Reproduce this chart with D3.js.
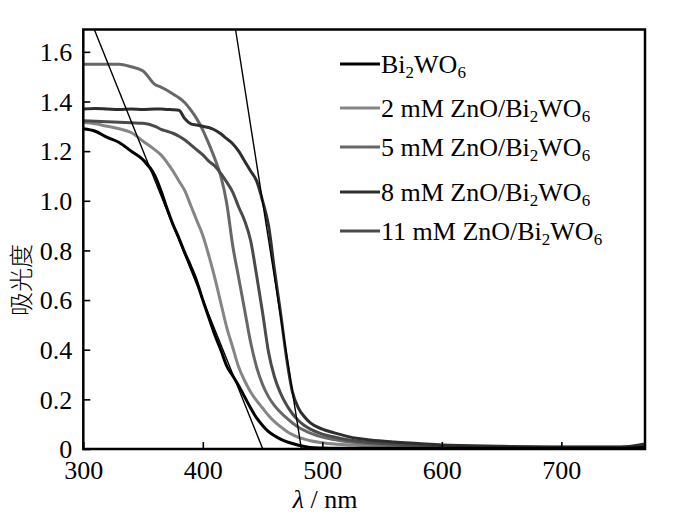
<!DOCTYPE html>
<html>
<head>
<meta charset="utf-8">
<script src="https://cdn.jsdelivr.net/npm/d3@7"></script>
<style>
  body { margin: 0; background: #fff; }
  text { font-family: "Liberation Serif", "Times New Roman", serif; fill: #000; }
</style>
</head>
<body>
<div id="container"></div>
<script>
/* CONSTANTS AND GLOBALS */
const width = 700;
const height = 530;
const margin = { top: 29.5, bottom: 81, left: 83.3, right: 55 };

/* DATA */
const wavelengths = [300, 310, 320, 330, 340, 350, 360, 365, 370, 375, 380, 385, 390, 395, 400, 405, 410, 415, 420, 425,
  430, 435, 440, 445, 450, 455, 460, 465, 470, 475, 480, 485, 490, 500, 510, 520, 530, 540, 560, 580, 600, 650, 700, 750, 770];

const bi2wo6 = [1.29, 1.28, 1.255, 1.235, 1.20, 1.165, 1.10, 1.04, 0.97, 0.905, 0.85, 0.79, 0.735, 0.675, 0.60, 0.53, 0.46, 0.40, 0.335, 0.295,
  0.255, 0.21, 0.165, 0.125, 0.095, 0.07, 0.053, 0.04, 0.03, 0.022, 0.015, 0.01, 0.006, 0.004, 0.003, 0.003, 0.003, 0.003, 0.003, 0.003, 0.003, 0.003, 0.003, 0.003, 0.006];
const zno2 = [1.315, 1.31, 1.30, 1.29, 1.275, 1.24, 1.205, 1.185, 1.155, 1.12, 1.08, 1.04, 0.98, 0.92, 0.86, 0.78, 0.69, 0.59, 0.49, 0.41,
  0.33, 0.275, 0.23, 0.195, 0.165, 0.135, 0.11, 0.09, 0.072, 0.058, 0.047, 0.04, 0.033, 0.025, 0.02, 0.017, 0.015, 0.013, 0.011, 0.01, 0.009, 0.007, 0.006, 0.006, 0.01];
const zno5 = [1.55, 1.55, 1.55, 1.55, 1.54, 1.523, 1.468, 1.458, 1.445, 1.43, 1.415, 1.395, 1.365, 1.33, 1.285, 1.23, 1.17, 1.10, 0.99, 0.82,
  0.69, 0.56, 0.43, 0.33, 0.26, 0.21, 0.175, 0.148, 0.125, 0.105, 0.088, 0.075, 0.064, 0.048, 0.038, 0.03, 0.025, 0.021, 0.016, 0.013, 0.011, 0.008, 0.006, 0.006, 0.012];
const zno8 = [1.37, 1.372, 1.37, 1.368, 1.37, 1.368, 1.37, 1.37, 1.368, 1.367, 1.365, 1.33, 1.31, 1.305, 1.30, 1.295, 1.285, 1.27, 1.25, 1.23,
  1.20, 1.16, 1.12, 1.08, 1.00, 0.90, 0.72, 0.55, 0.37, 0.23, 0.165, 0.13, 0.105, 0.08, 0.065, 0.052, 0.042, 0.036, 0.028, 0.022, 0.016, 0.011, 0.008, 0.008, 0.02];
const zno11 = [1.322, 1.32, 1.318, 1.316, 1.314, 1.312, 1.30, 1.288, 1.28, 1.272, 1.26, 1.245, 1.225, 1.205, 1.185, 1.16, 1.14, 1.11, 1.075, 1.035,
  0.975, 0.92, 0.84, 0.70, 0.55, 0.39, 0.29, 0.225, 0.178, 0.142, 0.115, 0.095, 0.08, 0.06, 0.048, 0.038, 0.031, 0.026, 0.02, 0.016, 0.013, 0.009, 0.007, 0.007, 0.015];

// legend label prefixes, each followed by Bi2WO6 with subscripts
const seriesPrefixes = ["", "2 mM ZnO/", "5 mM ZnO/", "8 mM ZnO/", "11 mM ZnO/"];
const seriesColors = ["#000000", "#858585", "#676767", "#2e2e2e", "#4a4a4a"];
const seriesValues = [bi2wo6, zno2, zno5, zno8, zno11];

// tangent (band-edge) lines: [wavelength, absorbance] end points
const tangentA = [[309.2, 1.69], [450.2, 0]];
const tangentB = [[427.4, 1.69], [482.5, 0]];

const xTicks = [300, 400, 500, 600, 700];
const yTicks = [0, 0.2, 0.4, 0.6, 0.8, 1.0, 1.2, 1.4, 1.6];

/* SCALES */
const xScale = d3.scaleLinear()
  .domain([300, 770])
  .range([margin.left, width - margin.right]);

const yScale = d3.scaleLinear()
  .domain([0, 1.69])
  .range([height - margin.bottom, margin.top]);

const svg = d3.select("#container")
  .append("svg")
  .attr("width", width)
  .attr("height", height);

svg.append("defs")
  .append("clipPath")
  .attr("id", "plot-clip")
  .append("rect")
  .attr("x", margin.left)
  .attr("y", margin.top)
  .attr("width", width - margin.left - margin.right)
  .attr("height", height - margin.top - margin.bottom);

/* LINES */
const line = d3.line()
  .x(d => xScale(d[0]))
  .y(d => yScale(d[1]))
  .curve(d3.curveMonotoneX);

const plot = svg.append("g").attr("clip-path", "url(#plot-clip)");

// darker curves on top, like the original
const drawOrder = [1, 2, 4, 3, 0];
drawOrder.forEach(i => {
  plot.append("path")
    .datum(wavelengths.map((w, j) => [w, seriesValues[i][j]]))
    .attr("fill", "none")
    .attr("stroke", seriesColors[i])
    .attr("stroke-width", 3)
    .attr("stroke-linejoin", "round")
    .attr("d", line);
});

[tangentA, tangentB].forEach(t => {
  plot.append("path")
    .datum(t)
    .attr("fill", "none")
    .attr("stroke", "#000")
    .attr("stroke-width", 1.4)
    .attr("d", d3.line().x(d => xScale(d[0])).y(d => yScale(d[1])));
});

/* AXES */
const xAxis = svg.append("g")
  .attr("transform", `translate(0,${height - margin.bottom})`)
  .call(d3.axisBottom(xScale).tickValues(xTicks).tickSizeInner(-7).tickSizeOuter(0).tickPadding(12));

const yAxis = svg.append("g")
  .attr("transform", `translate(${margin.left},0)`)
  .call(d3.axisLeft(yScale).tickValues(yTicks).tickSizeInner(-7).tickSizeOuter(0).tickPadding(11)
    .tickFormat(d => d === 0 ? "0" : d3.format(".1f")(d)));

[xAxis, yAxis].forEach(a => {
  a.select(".domain").remove();
  a.selectAll(".tick line").attr("stroke", "#000").attr("stroke-width", 1.6);
  a.selectAll(".tick text")
    .attr("font-family", "Liberation Serif, serif")
    .attr("font-size", 26)
    .attr("fill", "#000");
});
yAxis.selectAll(".tick text").attr("dy", "0.34em");

// plot frame
svg.append("rect")
  .attr("x", margin.left)
  .attr("y", margin.top)
  .attr("width", width - margin.left - margin.right)
  .attr("height", height - margin.top - margin.bottom)
  .attr("fill", "none")
  .attr("stroke", "#000")
  .attr("stroke-width", 2.5);

/* AXIS TITLES */
const xTitle = svg.append("text")
  .attr("x", 325)
  .attr("y", 508)
  .attr("text-anchor", "middle")
  .attr("font-size", 26);
xTitle.append("tspan").attr("font-style", "italic").text("λ");
xTitle.append("tspan").text(" / nm");

svg.append("text")
  .attr("transform", "translate(30,280) rotate(-90)")
  .attr("text-anchor", "middle")
  .style("font-family", "'Noto Sans CJK SC', sans-serif")
  .style("font-weight", 300)
  .attr("font-size", 24)
  .text("吸光度");

/* LEGEND */
const legendY = [64, 108, 147, 192, 231];
const legend = svg.append("g");
seriesPrefixes.forEach((prefix, i) => {
  legend.append("line")
    .attr("x1", 340).attr("x2", 380)
    .attr("y1", legendY[i]).attr("y2", legendY[i])
    .attr("stroke", seriesColors[i])
    .attr("stroke-width", 3);

  const t = legend.append("text")
    .attr("x", 381)
    .attr("y", legendY[i] + 8.5)
    .attr("font-size", 26);
  t.append("tspan").text(prefix + "Bi");
  t.append("tspan").attr("font-size", 17).attr("dy", 5).text("2");
  t.append("tspan").attr("dy", -5).text("WO");
  t.append("tspan").attr("font-size", 17).attr("dy", 5).text("6");
});
</script>
</body>
</html>
